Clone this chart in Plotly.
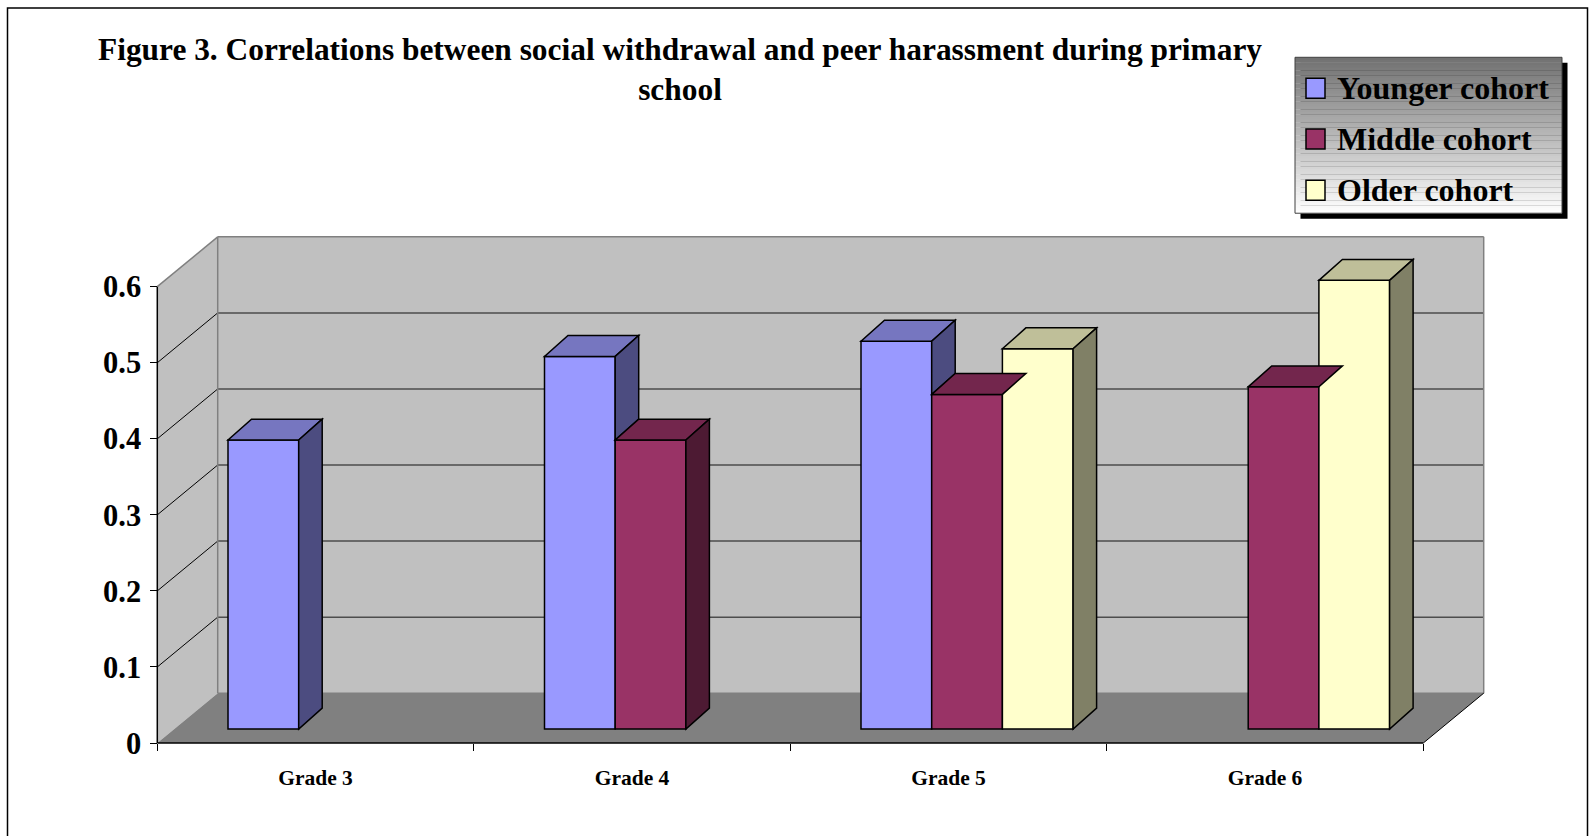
import plotly.graph_objects as go

# ---- data ----
grades = ["Grade 3", "Grade 4", "Grade 5", "Grade 6"]
series_names = ["Younger cohort", "Middle cohort", "Older cohort"]
younger = [0.38, 0.49, 0.51, None]
middle = [None, 0.38, 0.44, 0.45]
older = [None, None, 0.50, 0.59]
y_ticks = [0, 0.1, 0.2, 0.3, 0.4, 0.5, 0.6]
title_text = ("Figure 3. Correlations between social withdrawal and peer harassment during primary"
              "<br>school")

# ---- styles ----
front_colors = ["#9999FF", "#993366", "#FFFFCC"]
top_colors = ["#7676C0", "#73264D", "#BFBF99"]
side_colors = ["#4C4C80", "#4D1A33", "#808066"]
FONT = "Liberation Serif, Times New Roman, serif"
WALL = "#C0C0C0"
FLOOR = "#808080"
EDGE = "#808080"

W, H = 1592, 836

# pixel geometry of the box (front plane) and scale
PX_AXIS_X = 157.3        # front vertical axis
PX_ZERO_Y = 745.7        # front floor edge
PX_PER_CAT = 316.5
PX_PER_UNIT = 763.3

# plot area (a little larger than the box so edge lines are not clipped)
AREA_L, AREA_R = 140.0, 1486.0
AREA_T, AREA_B = 234.0, 760.0


def dx(px):
    return px / PX_PER_CAT


def dy(px):
    return px / PX_PER_UNIT


X_FRONT_L = -0.5
X_FRONT_R = len(grades) - 0.5
x_range = [X_FRONT_L - dx(PX_AXIS_X - AREA_L), X_FRONT_L + dx(AREA_R - PX_AXIS_X)]
y_range = [-dy(AREA_B - PX_ZERO_Y), dy(PX_ZERO_Y - AREA_T)]

WALL_DX, WALL_DY = dx(60.4), dy(50)
BAR_SX, BAR_SY = dx(18.5), dy(14)
BAR_DX, BAR_DY = dx(23.5), dy(21)
BAR_W = dx(70.7)
Y_TOP = max(y_ticks)

series = [younger, middle, older]

fig = go.Figure()

# front faces of the bars
for j, vals in enumerate(series):
    fig.add_trace(go.Bar(
        x=[i + (j - 1) * BAR_W + BAR_SX for i in range(len(grades))],
        y=vals,
        base=BAR_SY,
        width=BAR_W,
        name=series_names[j],
        marker=dict(color=front_colors[j], line=dict(color="black", width=1.5)),
        showlegend=False,
        hoverinfo="skip",
    ))

shapes = []


def path(points):
    return "M " + " L ".join(f"{x},{y}" for x, y in points) + " Z"


# walls and floor
bx0 = X_FRONT_L + WALL_DX
bx1 = X_FRONT_R + WALL_DX
shapes.append(dict(type="path", xref="x", yref="y", layer="below",
                   path=path([(X_FRONT_L, 0), (X_FRONT_L, Y_TOP),
                              (bx0, Y_TOP + WALL_DY), (bx0, WALL_DY)]),
                   fillcolor=WALL, line=dict(width=0)))
shapes.append(dict(type="rect", xref="x", yref="y", layer="below",
                   x0=bx0, x1=bx1, y0=WALL_DY, y1=Y_TOP + WALL_DY,
                   fillcolor=WALL, line=dict(width=0)))
shapes.append(dict(type="path", xref="x", yref="y", layer="below",
                   path=path([(X_FRONT_L, 0), (X_FRONT_R, 0),
                              (bx1, WALL_DY), (bx0, WALL_DY)]),
                   fillcolor=FLOOR, line=dict(width=0)))

# gridlines: horizontal on the back wall, slanted on the side wall
for v in y_ticks[1:-1]:
    shapes.append(dict(type="line", xref="x", yref="y", layer="below",
                       x0=bx0, x1=bx1, y0=v + WALL_DY, y1=v + WALL_DY,
                       line=dict(color="#4D4D4D", width=1.5)))
    shapes.append(dict(type="line", xref="x", yref="y", layer="below",
                       x0=X_FRONT_L, x1=bx0, y0=v, y1=v + WALL_DY,
                       line=dict(color="black", width=1)))

# wall edges
for (x0, y0, x1, y1) in [
    (X_FRONT_L, Y_TOP, bx0, Y_TOP + WALL_DY),
    (bx0, Y_TOP + WALL_DY, bx1, Y_TOP + WALL_DY),
    (bx1, Y_TOP + WALL_DY, bx1, WALL_DY),
    (bx0, WALL_DY, bx0, Y_TOP + WALL_DY),
    (bx0, WALL_DY, bx1, WALL_DY),
]:
    shapes.append(dict(type="line", xref="x", yref="y", layer="below",
                       x0=x0, y0=y0, x1=x1, y1=y1,
                       line=dict(color=EDGE, width=1.5)))

# floor right edge and front axis lines
shapes.append(dict(type="line", xref="x", yref="y", layer="below",
                   x0=X_FRONT_R, y0=0, x1=bx1, y1=WALL_DY,
                   line=dict(color="black", width=1)))
shapes.append(dict(type="line", xref="x", yref="y", layer="above",
                   x0=X_FRONT_L, y0=0, x1=X_FRONT_R, y1=0,
                   line=dict(color="black", width=1.5)))
shapes.append(dict(type="line", xref="x", yref="y", layer="above",
                   x0=X_FRONT_L, y0=0, x1=X_FRONT_L, y1=Y_TOP,
                   line=dict(color="black", width=1.5)))

# top and side faces of the bars
for i in range(len(grades)):
    for j, vals in enumerate(series):
        v = vals[i]
        if v is None:
            continue
        xl = i + (j - 1) * BAR_W + BAR_SX - BAR_W / 2
        xr = xl + BAR_W
        yb = BAR_SY
        yt = BAR_SY + v
        shapes.append(dict(type="path", xref="x", yref="y", layer="above",
                           path=path([(xl, yt), (xr, yt),
                                      (xr + BAR_DX, yt + BAR_DY), (xl + BAR_DX, yt + BAR_DY)]),
                           fillcolor=top_colors[j], line=dict(color="black", width=1.5)))
        # the neighbouring bar hides the lower part of the side face
        lo = yb
        if j + 1 < len(series) and series[j + 1][i] is not None:
            lo = max(lo, BAR_SY + series[j + 1][i])
        if lo < yt:
            shapes.append(dict(type="path", xref="x", yref="y", layer="above",
                               path=path([(xr, lo), (xr, yt),
                                          (xr + BAR_DX, yt + BAR_DY), (xr + BAR_DX, lo + BAR_DY)]),
                               fillcolor=side_colors[j], line=dict(color="black", width=1.5)))


def px_x(p):
    return p / W


def px_y(p):
    return 1 - p / H


# outer frame
shapes.append(dict(type="rect", xref="paper", yref="paper", layer="above",
                   x0=px_x(7.5), x1=px_x(1587.5), y0=px_y(860), y1=px_y(8),
                   line=dict(color="black", width=1.5), fillcolor="rgba(0,0,0,0)"))

# legend box: drop shadow, vertical gray gradient, border
LG_L, LG_R, LG_T, LG_B = 1295.0, 1562.0, 57.5, 214.0
shapes.append(dict(type="rect", xref="paper", yref="paper", layer="above",
                   x0=px_x(LG_L + 5.5), x1=px_x(LG_R + 5.5),
                   y0=px_y(LG_B + 5.5), y1=px_y(LG_T + 5.5),
                   fillcolor="black", line=dict(width=0)))
n_strips = 60
for k in range(n_strips):
    t0 = LG_T + (LG_B - LG_T) * k / n_strips
    t1 = LG_T + (LG_B - LG_T) * (k + 1) / n_strips
    g = int(round(112 + (255 - 112) * (k + 0.5) / n_strips))
    shapes.append(dict(type="rect", xref="paper", yref="paper", layer="above",
                       x0=px_x(LG_L), x1=px_x(LG_R), y0=px_y(t1 + 0.3), y1=px_y(t0),
                       fillcolor=f"rgb({g},{g},{g})", line=dict(width=0)))
shapes.append(dict(type="rect", xref="paper", yref="paper", layer="above",
                   x0=px_x(LG_L), x1=px_x(LG_R), y0=px_y(LG_B), y1=px_y(LG_T),
                   fillcolor="rgba(0,0,0,0)", line=dict(color="#404040", width=1)))

annotations = []
legend_rows = [88.5, 139.5, 191.0]
for j, cy in enumerate(legend_rows):
    shapes.append(dict(type="rect", xref="paper", yref="paper", layer="above",
                       x0=px_x(1306), x1=px_x(1325), y0=px_y(cy + 10), y1=px_y(cy - 10),
                       fillcolor=front_colors[j], line=dict(color="black", width=1.5)))
    annotations.append(dict(xref="paper", yref="paper", x=px_x(1335), y=px_y(cy),
                            xanchor="left", yanchor="middle", showarrow=False,
                            text=series_names[j],
                            font=dict(family=FONT, size=32, color="black", weight="bold")))

fig.update_layout(
    width=W, height=H,
    margin=dict(l=0, r=0, t=0, b=0),
    paper_bgcolor="white",
    plot_bgcolor="white",
    barmode="overlay",
    showlegend=False,
    title=dict(text=title_text, x=680 / W, xanchor="center", y=px_y(59.5), yanchor="middle",
               font=dict(family=FONT, size=31.4, color="black", weight="bold")),
    xaxis=dict(
        domain=[AREA_L / W, AREA_R / W],
        range=x_range,
        anchor="free",
        position=px_y(PX_ZERO_Y),
        tickvals=list(range(len(grades))),
        ticktext=grades,
        ticks="",
        ticklabelstandoff=19,
        tickfont=dict(family=FONT, size=21.5, color="black", weight="bold"),
        minor=dict(tickvals=[i - 0.5 for i in range(len(grades) + 1)],
                   ticks="outside", ticklen=7, tickcolor="black", tickwidth=1),
        showgrid=False, zeroline=False, showline=False,
        fixedrange=True,
    ),
    yaxis=dict(
        domain=[1 - AREA_B / H, 1 - AREA_T / H],
        range=y_range,
        anchor="free",
        position=PX_AXIS_X / W,
        tickvals=y_ticks,
        ticktext=[f"{v:g}" for v in y_ticks],
        ticks="outside", ticklen=7, tickcolor="black", tickwidth=1,
        ticklabelstandoff=3,
        tickfont=dict(family=FONT, size=30.5, color="black", weight="bold"),
        showgrid=False, zeroline=False, showline=False,
        fixedrange=True,
    ),
    shapes=shapes,
    annotations=annotations,
)

fig.write_html("out.html", config={"displayModeBar": False},
               post_script="document.body.style.margin='0';")
